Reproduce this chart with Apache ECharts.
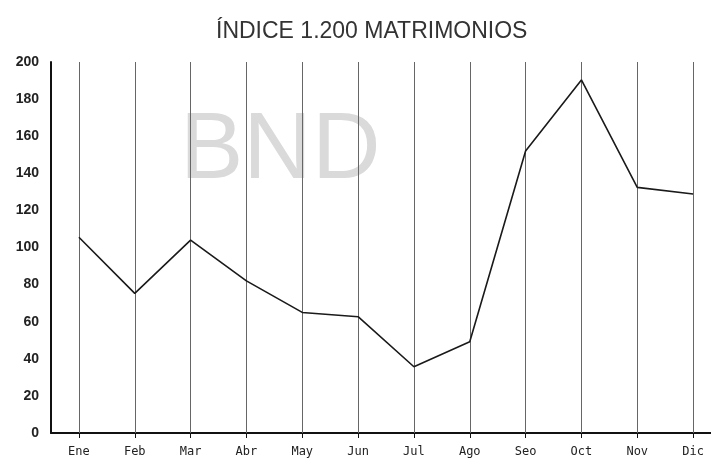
<!DOCTYPE html>
<html>
<head>
<meta charset="utf-8">
<script src="https://cdn.jsdelivr.net/npm/echarts@6/dist/echarts.min.js"></script>
<style>html,body{margin:0;padding:0;background:#fff}#c{width:711px;height:459px}</style>
</head>
<body>
<div id="c"></div>
<script>
var titleText = 'ÍNDICE 1.200 MATRIMONIOS';
var categories = ['Ene','Feb','Mar','Abr','May','Jun','Jul','Ago','Seo','Oct','Nov','Dic'];
var values = [105.5, 75.3, 104, 82, 65, 62.7, 35.7, 49.2, 152, 190.3, 132.4, 128.8];
var yTicks = [0, 20, 40, 60, 80, 100, 120, 140, 160, 180, 200];

var chart = echarts.init(document.getElementById('c'), null, {renderer: 'canvas'});
chart.setOption({
  animation: false,
  backgroundColor: '#fff',
  title: {
    text: titleText, left: 211, top: 15,
    textStyle: {fontFamily: 'Liberation Sans', fontSize: 23, fontWeight: 'normal', color: '#333'}
  },
  graphic: [{
    type: 'text', left: 180, top: 104, z: 0, silent: true,
    style: {text: 'BND', font: '95px "Liberation Sans"', fill: '#dadada'}
  }],
  grid: {left: 51, top: 62, width: 670, bottom: 26, containLabel: false, outerBoundsMode: 'none'},
  xAxis: {
    type: 'category', data: categories, boundaryGap: true,
    axisLine: {show: true, lineStyle: {color: '#111', width: 2}},
    axisTick: {show: true, alignWithLabel: true, length: 5, lineStyle: {color: '#111', width: 1}},
    axisLabel: {color: '#222', fontFamily: 'DejaVu Sans Mono', fontSize: 12, margin: 13},
    splitLine: {show: false}
  },
  yAxis: {
    type: 'value', min: yTicks[0], max: yTicks[yTicks.length - 1], interval: 20,
    axisLine: {show: true, lineStyle: {color: '#111', width: 2}},
    axisTick: {show: false},
    axisLabel: {color: '#222', fontFamily: 'Liberation Sans', fontSize: 14, fontWeight: 'bold', margin: 12},
    splitLine: {show: false}
  },
  series: [{
    type: 'line', data: values, z: 5,
    symbol: 'none',
    lineStyle: {color: '#1a1a1a', width: 1.6},
    markLine: {
      silent: true, symbol: 'none', label: {show: false},
      lineStyle: {color: '#666', width: 1, type: 'solid'},
      data: categories.map(function (c) { return {xAxis: c}; })
    }
  }]
});
</script>
</body>
</html>
